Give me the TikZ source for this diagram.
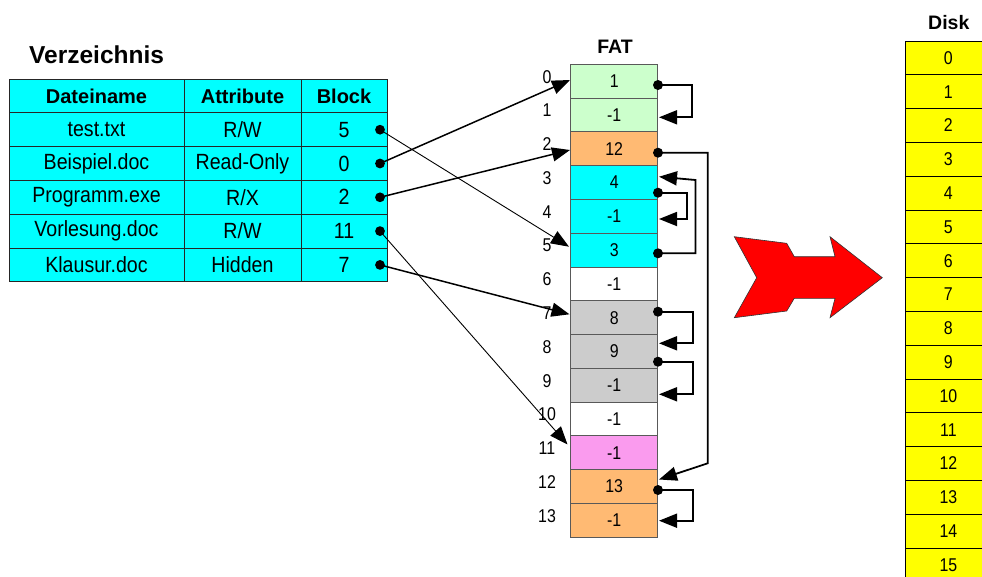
\documentclass[tikz,border=0pt]{standalone}
\usepackage{fontspec}
\setmainfont{Liberation Sans}
\newfontfamily\narrowsans{Liberation Sans}[FakeStretch=0.89]
\newfontfamily\digitsans{Liberation Sans}[FakeStretch=0.86]
\usetikzlibrary{arrows.meta}

\definecolor{tabcyan}{HTML}{00FFFF}
\definecolor{fatgreen}{HTML}{CCFFCC}
\definecolor{fatorange}{HTML}{FFBA73}
\definecolor{fatgray}{HTML}{CCCCCC}
\definecolor{fatpink}{HTML}{FA9BEE}
\definecolor{diskyellow}{HTML}{FFFF00}
\definecolor{bigred}{HTML}{FF0000}

\begin{document}
\begin{tikzpicture}[x=1pt,y=-1pt,
  tabcell/.style={draw=black!85, line width=0.9pt, fill=tabcyan, inner sep=0pt,
    minimum height=33.8pt, font=\narrowsans\fontsize{22}{25}\selectfont},
  tabhead/.style={tabcell, font=\bfseries\fontsize{20}{24}\selectfont},
  fatcell/.style={draw=black!65, line width=0.9pt, inner sep=0pt,
    minimum width=87pt, minimum height=33.78pt, font=\digitsans\fontsize{18.5}{21}\selectfont},
  fatlabel/.style={inner sep=0pt, font=\digitsans\fontsize{18.5}{21}\selectfont},
  diskcell/.style={draw=black, line width=1pt, fill=diskyellow, inner sep=0pt,
    minimum width=86.7pt, minimum height=33.8pt, font=\digitsans\fontsize{18.5}{21}\selectfont},
  title/.style={inner sep=0pt, font=\bfseries\fontsize{19.5}{23}\selectfont},
  dot/.style={circle, fill=black, inner sep=0pt, minimum size=9.8pt},
  tip/.style={-{Triangle[length=18pt,width=14pt]}},
  link/.style={tip, line width=1.5pt},
  thinlink/.style={tip, line width=0.9pt},
  chain/.style={tip, line width=1.8pt},
]
\useasboundingbox (0,0) rectangle (982,576);
\clip (0,0) rectangle (982,576);

% ---------- directory table ----------
\node[inner sep=0pt, anchor=base west, font=\bfseries\fontsize{24.5}{28}\selectfont] (vtitle) at (29,63) {Verzeichnis};

\node[tabhead, minimum width=175pt] (h1) at (96.5,95.9) {Dateiname};
\node[tabhead, minimum width=117pt] (h2) at (242.5,95.9) {Attribute};
\node[tabhead, minimum width=86pt]  (h3) at (344,95.9) {Block};

\foreach \r/\name/\attr/\blk in {1/test.txt/R\slash W/5, 2/Beispiel.doc/Read-Only/0,
    3/Programm.exe/R\slash X/2, 4/Vorlesung.doc/R\slash W/11, 5/Klausur.doc/Hidden/7}{
  \node[tabcell, minimum width=175pt] (n\r) at (96.5,{95.9+33.8*\r}) {\name};
  \node[tabcell, minimum width=117pt] (a\r) at (242.5,{95.9+33.8*\r}) {\attr};
  \node[tabcell, minimum width=86pt]  (b\r) at (344,{95.9+33.8*\r}) {\blk};
  \node[dot] (p\r) at (380,{95.9+33.8*\r}) {};
}

% ---------- FAT ----------
\node[title] (fattitle) at (615,46.7) {FAT};
\foreach \k/\v/\c in {0/1/fatgreen, 1/-1/fatgreen, 2/12/fatorange, 3/4/tabcyan,
    4/-1/tabcyan, 5/3/tabcyan, 6/-1/white, 7/8/fatgray, 8/9/fatgray, 9/-1/fatgray,
    10/-1/white, 11/-1/fatpink, 12/13/fatorange, 13/-1/fatorange}{
  \node[fatcell, fill=\c] (f\k) at (614.2,{81.2+33.78*\k}) {\v};
  \node[fatlabel] (l\k) at (547,{76.8+33.78*\k}) {\k};
}

% ---------- disk ----------
\node[title] (disktitle) at (948.8,23) {Disk};
\foreach \k in {0,...,15}{
  \node[diskcell] (d\k) at (948.35,{57.9+33.8*\k}) {\k};
}

% ---------- big arrow ----------
\fill[bigred, draw=black!80, line width=0.6pt]
  (734.3,236.7) -- (786.7,243.3) -- (794.3,256.7) -- (835,256.7) -- (830,236.7)
  -- (882.3,277.7) -- (830,317.7) -- (835,298.3) -- (794.3,298.3) -- (786.7,311)
  -- (734.3,317.7) -- (756.7,277.7) -- cycle;

% ---------- directory entries point into the FAT ----------
\coordinate (e5)  at (569,246.7);
\coordinate (e0)  at (570,80);
\coordinate (e2)  at (570,150);
\coordinate (e11) at (567.5,444.5);
\coordinate (e7)  at (569.5,314.3);
\draw[thinlink] (p1.center) -- (e5);
\draw[link]     (p2.center) -- (e0);
\draw[link]     (p3.center) -- (e2);
\draw[thinlink] (p4.center) -- (e11);
\draw[link]     (p5.center) -- (e7);

% ---------- FAT chains ----------
\node[dot, minimum size=10pt] (r0)  at (658,85) {};
\node[dot, minimum size=10pt] (r2)  at (658,152.7) {};
\node[dot, minimum size=10pt] (r3)  at (658,192.7) {};
\node[dot, minimum size=10pt] (r5)  at (658,253.3) {};
\node[dot, minimum size=10pt] (r7)  at (658,311.7) {};
\node[dot, minimum size=10pt] (r8)  at (658,361.7) {};
\node[dot, minimum size=10pt] (r12) at (658,490) {};

\coordinate (t1)  at (659,117.3);
\coordinate (t3)  at (659,176.7);
\coordinate (t4)  at (659,219);
\coordinate (t8)  at (659,343.3);
\coordinate (t9)  at (659,394.3);
\coordinate (t12) at (659,479.5);
\coordinate (t13) at (659,520.7);

\draw[chain] (r0.center) -- ++(34.3,0) |- (t1);
\draw[chain] (r2.center) -- ++(49.7,0) -- ++(0,310.6) -- (t12);
\draw[chain] (r3.center) -- ++(28.7,0) |- (t4);
\draw[chain] (r5.center) -- ++(37.5,0) -- ++(0,-73.3) -- (t3);
\draw[chain] (r7.center) -- ++(35,0) |- (t8);
\draw[chain] (r8.center) -- ++(35,0) |- (t9);
\draw[chain] (r12.center) -- ++(35,0) |- (t13);
\end{tikzpicture}
\end{document}
